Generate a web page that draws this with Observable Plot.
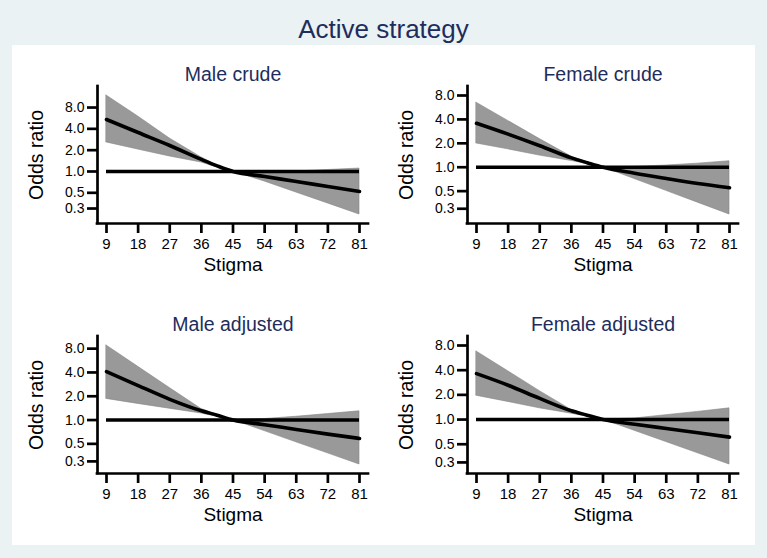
<!DOCTYPE html>
<html><head><meta charset="utf-8">
<script src="https://cdn.jsdelivr.net/npm/d3@7"></script>
<script src="https://cdn.jsdelivr.net/npm/@observablehq/plot@0.6"></script>
<style>
html,body{margin:0;padding:0;background:#EAF2F3;}
#root{position:relative;width:767px;height:558px;background:#EAF2F3;font-family:"Liberation Sans",Arial,Helvetica,sans-serif;overflow:hidden}
#inner{position:absolute;left:12px;top:45px;width:743px;height:500px;background:#ffffff}
#title{position:absolute;left:0;top:16px;width:767px;text-align:center;font-size:26px;line-height:26px;color:#1e2d5c}
.cell{position:absolute}
</style></head>
<body>
<div id="root"><div id="inner"></div><div id="title">Active strategy</div></div>
<script>
// ---- data ----
const stigma = [9, 18, 27, 36, 40.5, 45, 54, 63, 72, 81];
const xTicks = [9, 18, 27, 36, 45, 54, 63, 72, 81];
const yTicks = [0.3, 0.5, 1, 2, 4, 8];
const panelTitles = ["Male crude", "Female crude", "Male adjusted", "Female adjusted"];
const xTitle = "Stigma";
const yTitle = "Odds ratio";

const maleCrudeOR = [5.42, 3.55, 2.33, 1.48, 1.20, 1, 0.85, 0.722, 0.614, 0.522];
const maleCrudeUpper = [11.83, 5.98, 2.92, 1.58, 1.215, 1, 0.98, 1.0, 1.05, 1.10];
const maleCrudeLower = [2.57, 2.04, 1.63, 1.34, 1.14, 1, 0.722, 0.505, 0.354, 0.247];

const femaleCrudeOR = [3.58, 2.61, 1.865, 1.31, 1.14, 1, 0.841, 0.722, 0.625, 0.552];
const femaleCrudeUpper = [6.49, 3.83, 2.26, 1.36, 1.16, 1, 1.01, 1.05, 1.11, 1.19];
const femaleCrudeLower = [1.99, 1.68, 1.40, 1.20, 1.10, 1, 0.71, 0.504, 0.358, 0.254];

const maleAdjOR = [4.10, 2.73, 1.83, 1.31, 1.15, 1, 0.873, 0.761, 0.664, 0.585];
const maleAdjUpper = [8.77, 4.72, 2.54, 1.38, 1.17, 1, 1.03, 1.10, 1.19, 1.29];
const maleAdjLower = [1.85, 1.60, 1.39, 1.21, 1.10, 1, 0.725, 0.523, 0.379, 0.274];

const femaleAdjOR = [3.63, 2.62, 1.81, 1.28, 1.13, 1, 0.878, 0.778, 0.690, 0.611];
const femaleAdjUpper = [6.76, 3.88, 2.22, 1.31, 1.14, 1, 1.03, 1.13, 1.24, 1.37];
const femaleAdjLower = [1.95, 1.64, 1.37, 1.18, 1.08, 1, 0.729, 0.532, 0.388, 0.283];

const referenceOR = 1;

// ---- layout ----
const navy = "#1e2d5c";
const FONT = '"Liberation Sans", Arial, Helvetica, sans-serif';
const frameW = 271, frameH = 137, pad = 9;
const panels = [
  {title: panelTitles[0], or: maleCrudeOR, up: maleCrudeUpper, lo: maleCrudeLower, left: 12, top: 45, ml: 85},
  {title: panelTitles[1], or: femaleCrudeOR, up: femaleCrudeUpper, lo: femaleCrudeLower, left: 384, top: 45, ml: 83},
  {title: panelTitles[2], or: maleAdjOR, up: maleAdjUpper, lo: maleAdjLower, left: 12, top: 295, ml: 85},
  {title: panelTitles[3], or: femaleAdjOR, up: femaleAdjUpper, lo: femaleAdjLower, left: 384, top: 295, ml: 83}
];

const root = document.getElementById("root");
const xmin = d3.min(xTicks), xmax = d3.max(xTicks);
const xppu = (frameW - 2 * pad) / (xmax - xmin);
const xDom = [xmin - pad / xppu, xmax + pad / xppu];
const fmt = d3.format(".1f");

for (const p of panels) {
  const rows = stigma.map((x, i) => ({x, or: p.or[i], lo: p.lo[i], hi: p.up[i]}));
  const lo = Math.min(d3.min(p.lo), d3.min(yTicks));
  const hi = Math.max(d3.max(p.up), d3.max(yTicks));
  const ppl = (frameH - 2 * pad) / Math.log(hi / lo);
  const yDom = [lo * Math.exp(-pad / ppl), hi * Math.exp(pad / ppl)];
  const mt = 41, mb = 72, mr = 369 - p.ml - frameW;
  const chart = Plot.plot({
    width: 369, height: mt + frameH + mb,
    marginLeft: p.ml, marginRight: mr, marginTop: mt, marginBottom: mb,
    style: {background: "transparent", fontFamily: FONT, fontSize: "15px", color: "#000", overflow: "visible"},
    x: {domain: xDom, axis: null},
    y: {type: "log", domain: yDom, axis: null},
    marks: [
      Plot.areaY(rows, {x: "x", y1: "lo", y2: "hi", fill: "#999999", stroke: "#858585", strokeWidth: 0.6}),
      Plot.ruleY([referenceOR], {x1: xmin, x2: xmax, stroke: "#000", strokeWidth: 3.4}),
      Plot.line(rows, {x: "x", y: "or", stroke: "#000", strokeWidth: 3.6, curve: "monotone-x"}),
      Plot.ruleX([xDom[0]], {y1: yDom[0], y2: yDom[1], stroke: "#000", strokeWidth: 2.7, strokeLinecap: "square"}),
      Plot.ruleY([yDom[0]], {x1: xDom[0], x2: xDom[1], stroke: "#000", strokeWidth: 2.7, strokeLinecap: "square"}),
      Plot.axisY(yTicks, {tickFormat: () => "", tickSize: 10, tickPadding: 4, strokeWidth: 2.7, label: null}),
      Plot.text(yTicks, {y: (d) => d, text: (d) => fmt(d), frameAnchor: "left", textAnchor: "end", lineAnchor: "middle", dx: -13, fontSize: 14, fill: "#000"}),
      Plot.axisX(xTicks, {tickSize: 10, tickPadding: 5, strokeWidth: 2.7, fontSize: 15, label: null}),
      Plot.text([p.title], {frameAnchor: "top", textAnchor: "middle", lineAnchor: "bottom", dy: -6, fontSize: 19.5, fill: navy}),
      Plot.text([yTitle], {frameAnchor: "left", textAnchor: "middle", lineAnchor: "bottom", rotate: -90, dx: -55, fontSize: 19.5, fill: "#000"}),
      Plot.text([xTitle], {frameAnchor: "bottom", textAnchor: "middle", lineAnchor: "bottom", dy: 47, fontSize: 19, fill: "#000"})
    ]
  });
  const cell = document.createElement("div");
  cell.className = "cell";
  cell.style.left = p.left + "px";
  cell.style.top = p.top + "px";
  cell.appendChild(chart);
  root.appendChild(cell);
}
</script>
</body></html>
